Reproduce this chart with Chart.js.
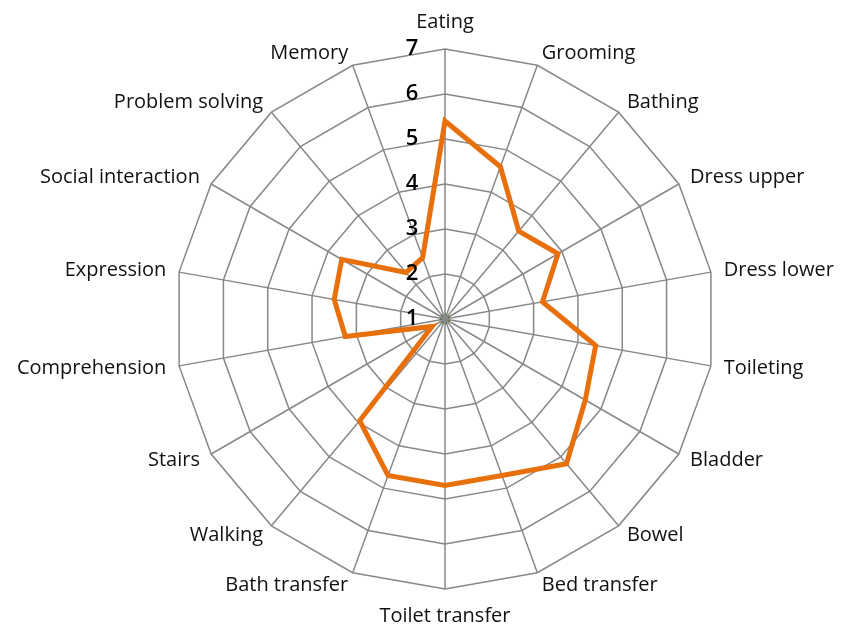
<!DOCTYPE html>
<html>
<head>
<meta charset="utf-8">
<script src="https://cdn.jsdelivr.net/npm/chart.js@4"></script>
<style>
  html, body { margin: 0; padding: 0; background: #fff; }
  #wrap { width: 842px; height: 626px; position: relative; }
</style>
</head>
<body>
<div id="wrap"><canvas id="chart"></canvas></div>
<script>
const categories = ['Eating', 'Grooming', 'Bathing', 'Dress upper', 'Dress lower', 'Toileting',
  'Bladder', 'Bowel', 'Bed transfer', 'Toilet transfer', 'Bath transfer', 'Walking',
  'Stairs', 'Comprehension', 'Expression', 'Social interaction', 'Problem solving', 'Memory'];
const scores = [5.4, 4.6, 3.55, 3.9, 3.2, 4.4, 4.6, 5.2, 4.7, 4.7, 4.7, 3.95,
  1.33, 3.25, 3.5, 3.65, 2.35, 2.45];
const baseline = [1.1, 1.1, 1.1, 1.1, 1.1, 1.1, 1.1, 1.1, 1.1, 1.1, 1.1, 1.1,
  1.1, 1.1, 1.1, 1.1, 1.1, 1.1];
const tickValues = [1, 2, 3, 4, 5, 6, 7];

const FONT = '"Open Sans", sans-serif';

// tick numbers sit left of the vertical axis, like the original
const tickLabels = {
  id: 'tickLabels',
  afterDraw(chart) {
    const s = chart.scales.r;
    const ctx = chart.ctx;
    ctx.save();
    ctx.font = '600 22px ' + FONT;
    ctx.fillStyle = '#000';
    ctx.textAlign = 'center';
    ctx.textBaseline = 'middle';
    tickValues.forEach(v => {
      const p = s.getPointPositionForValue(0, v);
      ctx.fillText(String(v), p.x - 33, p.y);
    });
    ctx.restore();
  }
};

// category labels: anchored on the axis just outside the outer ring, middle baseline
const axisLabels = {
  id: 'axisLabels',
  afterDraw(chart) {
    const s = chart.scales.r;
    const ctx = chart.ctx;
    ctx.save();
    ctx.font = '20px ' + FONT;
    ctx.fillStyle = '#111';
    ctx.textBaseline = 'middle';
    categories.forEach((name, i) => {
      const centred = i === 0 || i === categories.length / 2;
      const p = s.getPointPosition(i, s.drawingArea + (centred ? 27 : 13));
      if (centred) ctx.textAlign = 'center';
      else ctx.textAlign = p.x > s.xCenter ? 'left' : 'right';
      ctx.fillText(name, p.x, p.y);
    });
    ctx.restore();
  }
};

new Chart(document.getElementById('chart'), {
  type: 'radar',
  data: {
    labels: categories,
    datasets: [
      {
        label: 'Baseline',
        data: baseline,
        borderColor: '#4e7a3e',
        borderWidth: 1.5,
        borderDash: [2, 2],
        pointRadius: 0,
        fill: false
      },
      {
        label: 'Score',
        data: scores,
        borderColor: '#e8700c',
        borderWidth: 5,
        borderJoinStyle: 'miter',
        pointRadius: 0,
        fill: false
      }
    ]
  },
  options: {
    responsive: true,
    maintainAspectRatio: false,
    animation: false,
    layout: { padding: { left: 175, right: 127, top: 49, bottom: 37 } },
    plugins: {
      legend: { display: false },
      tooltip: { enabled: false }
    },
    scales: {
      r: {
        min: 1,
        max: 7,
        ticks: { stepSize: 1, display: false },
        grid: { color: '#888888', lineWidth: 1.5 },
        angleLines: { color: '#888888', lineWidth: 1.5 },
        pointLabels: { display: false }
      }
    }
  },
  plugins: [tickLabels, axisLabels]
});
</script>
</body>
</html>
